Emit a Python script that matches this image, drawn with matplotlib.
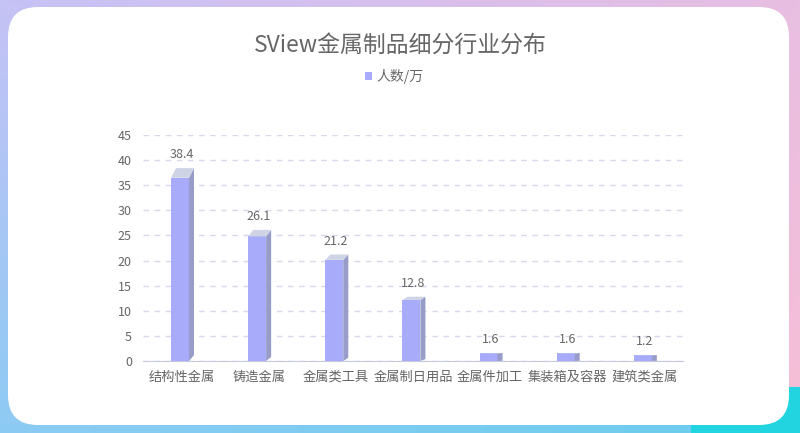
import numpy as np
import matplotlib
matplotlib.use("Agg")
import matplotlib.pyplot as plt
from matplotlib.patches import FancyBboxPatch, Polygon, Rectangle

plt.rcParams['font.family'] = ['Noto Sans CJK SC', 'DejaVu Sans']

categories = ['结构性金属', '铸造金属', '金属类工具', '金属制日用品', '金属件加工', '集装箱及容器', '建筑类金属']
values = [38.4, 26.1, 21.2, 12.8, 1.6, 1.6, 1.2]
yticks = [0, 5, 10, 15, 20, 25, 30, 35, 40, 45]
title = 'SView金属制品细分行业分布'
series_name = '人数/万'

W, H = 800, 433
fig = plt.figure(figsize=(8, 4.33), dpi=100)

# gradient border background
bg = fig.add_axes([0, 0, 1, 1])
yy, xx = np.mgrid[0:H, 0:W]
u = xx / (W - 1)
v = yy / (H - 1)
tl = np.array([198, 194, 246]) / 255
tr = np.array([232, 190, 226]) / 255
bl = np.array([140, 203, 244]) / 255
br = np.array([247, 190, 214]) / 255
img = ((1 - u)[..., None] * (1 - v)[..., None] * tl + u[..., None] * (1 - v)[..., None] * tr
       + (1 - u)[..., None] * v[..., None] * bl + u[..., None] * v[..., None] * br)
# bottom strip: light blue to cyan-ish blue
strip = yy > 424
t = (xx[strip] / 690.0).clip(0, 1)[:, None]
img[strip] = (1 - t) * np.array([140, 203, 244]) / 255 + t * np.array([110, 205, 238]) / 255
img[(yy > 386) & (xx > 690)] = np.array([34, 212, 224]) / 255
bg.imshow(img, extent=[0, W, H, 0], aspect='auto')
bg.set_xlim(0, W)
bg.set_ylim(H, 0)
bg.axis('off')
card = FancyBboxPatch((8 + 30, 7 + 30), 781 - 60, 418 - 60,
                      boxstyle='round,pad=30', fc='white', ec='none')
bg.add_patch(card)

# title and legend
fig.text(400 / W, 1 - 45 / H, title, ha='center', va='center', fontsize=16.5, color='#666666')
bg.add_patch(Rectangle((365, 72), 7, 8, fc='#A8AAFA', ec='none'))
fig.text(376 / W, 1 - 76 / H, series_name, ha='left', va='center', fontsize=10, color='#666666')

ax = fig.add_axes([143 / W, (H - 361) / H, 540 / W, 226 / H])
ax.set_facecolor('none')
ax.set_xlim(-0.5, len(categories) - 0.5)
ax.set_ylim(0, 45)
ax.set_yticks(yticks)
ax.set_xticks(range(len(categories)))
ax.set_xticklabels(categories)
ax.tick_params(axis='both', length=0, colors='#666666', labelsize=9)
ax.tick_params(axis='y', pad=8)
ax.tick_params(axis='x', pad=7, labelsize=9.5)
for s in ['top', 'right', 'left']:
    ax.spines[s].set_visible(False)
ax.spines['bottom'].set_color('#C8CADC')
ax.yaxis.grid(True, color='#D6D9EC', linestyle=(0, (4, 4)), linewidth=1)
ax.set_axisbelow(True)

front_c = '#A8AAFA'
side_c = '#989CC8'
top_c = '#CED4E6'
for i, val in enumerate(values):
    x0 = i - 0.137
    x1 = i + 0.096
    dx = 0.065
    yf = val * 0.95
    ax.add_patch(Polygon([(x0, 0), (x1, 0), (x1, yf), (x0, yf)], closed=True, fc=front_c, ec='none', zorder=3))
    ax.add_patch(Polygon([(x1, 0), (x1 + dx, val * 0.03), (x1 + dx, val), (x1, yf)], closed=True, fc=side_c, ec='none', zorder=3))
    ax.add_patch(Polygon([(x0, yf), (x1, yf), (x1 + dx, val), (x0 + dx, val)], closed=True, fc=top_c, ec='none', zorder=3))
    ax.annotate(f'{val}', xy=(i, val), xytext=(0, 5), textcoords='offset points',
                ha='center', va='bottom', fontsize=9, color='#666666')

fig.savefig('out.png', dpi=100)
